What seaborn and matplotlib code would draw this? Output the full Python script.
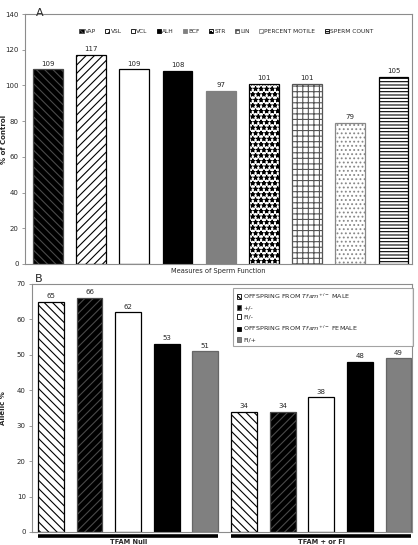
import matplotlib
matplotlib.use('Agg')
import matplotlib.pyplot as plt
import matplotlib.transforms as mtransforms
from matplotlib.patches import Patch
import seaborn as sns
import pandas as pd

sns.set_style('white')
plt.rcParams['font.family'] = ['DejaVu Sans']
plt.rcParams['hatch.linewidth'] = 0.8

##datos panel A
medidas = ['VAP', 'VSL', 'VCL', 'ALH', 'BCF', 'STR', 'LIN', 'PERCENT MOTILE', 'SPERM COUNT']
pct_control = [109, 117, 109, 108, 97, 101, 101, 79, 105]

##datos panel B
grupos_b = ['TFAM Null', 'TFAM + or Fl']
series_b = ['OFFSPRING FROM $\\mathit{Tfam}^{+/-}$ MALE', '+/-', 'Fl/-',
            'OFFSPRING FROM $\\mathit{Tfam}^{+/-}$ FEMALE', 'Fl/+']
alelico_null = [65, 66, 62, 53, 51]
alelico_fl = [34, 34, 38, 48, 49]

##estilos
caras_a = ['black', 'white', 'white', 'black', '#808080', 'white', 'white', 'white', 'white']
tramas_a = ['\\\\\\\\', '////', '', '', '', '***', '+++', '....', '-----']
bordes_a = ['#4a4a4a', 'black', 'black', 'black', '#808080', 'black', '#555555', '#888888', 'black']

caras_b = ['white', 'black', 'white', 'black', '#808080']
tramas_b = ['\\\\\\\\', '////', '', '', '']
bordes_b = ['black', '#4a4a4a', 'black', 'black', '#666666']

gris = '#8c8c8c'
fig = plt.figure(figsize=(4.18, 5.45), dpi=100)

###panel A
ax1 = fig.add_axes([0.060, 0.5156, 0.926, 0.4587])
df_a = pd.DataFrame({'medida': medidas, 'valor': pct_control})
sns.barplot(data=df_a, x='medida', y='valor', hue='medida', order=medidas,
            palette=caras_a, width=0.69, legend=False, ax=ax1, saturation=1)
for p, t, b in zip(ax1.patches, tramas_a, bordes_a):
    p.set_hatch(t)
    p.set_edgecolor(b)
    p.set_linewidth(0.9)
for c in ax1.containers:
    ax1.bar_label(c, fontsize=5, padding=2)
ax1.set_ylim(0, 140)
ax1.set_yticks(range(0, 141, 20))
ax1.set_xlim(-0.53, 8.43)
ax1.set_xticks([])
ax1.set_xlabel('Measures of Sperm Function', fontsize=4.8, labelpad=3)
ax1.set_ylabel('% of Control', fontsize=5, fontweight='bold')
ax1.yaxis.set_label_coords(-0.048, 0.5)
ax1.tick_params(axis='y', labelsize=5, length=2.5, width=0.6, color=gris, left=True, pad=2)
for s in ax1.spines.values():
    s.set_color(gris)
    s.set_linewidth(0.8)

hand_a = [Patch(facecolor=f, edgecolor=b, hatch=t, linewidth=0.6)
          for f, t, b in zip(caras_a, tramas_a, bordes_a)]
ax1.legend(hand_a, medidas, loc='center', bbox_to_anchor=(0.52, 0.93), ncol=9,
           frameon=False, fontsize=4.2, handlelength=0.7, handleheight=0.7,
           handletextpad=0.2, columnspacing=1.6)

fig.text(0.085, 0.985, 'A', fontsize=8, va='top')

###panel B
ax2 = fig.add_axes([0.0766, 0.0239, 0.909, 0.455])
etiquetas = [str(i) for i in range(10)]
valores_b = alelico_null + alelico_fl
df_b = pd.DataFrame({'barra': etiquetas, 'valor': valores_b})
sns.barplot(data=df_b, x='barra', y='valor', hue='barra', order=etiquetas,
            palette=caras_b * 2, width=0.67, legend=False, ax=ax2, saturation=1)
for p, t, b in zip(ax2.patches, tramas_b * 2, bordes_b * 2):
    p.set_hatch(t)
    p.set_edgecolor(b)
    p.set_linewidth(0.9)
for c in ax2.containers:
    ax2.bar_label(c, fontsize=5, padding=2)
ax2.set_ylim(0, 70)
ax2.set_yticks(range(0, 71, 10))
ax2.set_xlim(-0.49, 9.35)
ax2.set_xticks([])
ax2.set_xlabel('')
ax2.set_ylabel('Allelic %', fontsize=5, fontweight='bold')
ax2.yaxis.set_label_coords(-0.068, 0.5)
ax2.tick_params(axis='y', labelsize=5, length=2.5, width=0.6, color=gris, left=True, pad=2)
for s in ax2.spines.values():
    s.set_color(gris)
    s.set_linewidth(0.8)

hand_b = [Patch(facecolor=f, edgecolor=b, hatch=t, linewidth=0.6)
          for f, t, b in zip(caras_b, tramas_b, bordes_b)]
leg = ax2.legend(hand_b, series_b, loc='upper left', bbox_to_anchor=(0.529, 0.984, 0.474, 0.0),
                 mode='expand', frameon=True, fancybox=False, fontsize=4.6,
                 handlelength=0.7, handleheight=0.7, handletextpad=0.3,
                 labelspacing=0.62, borderpad=0.6, borderaxespad=0)
leg.get_frame().set_edgecolor(gris)
leg.get_frame().set_linewidth(0.8)

##lineas de grupo debajo del eje
trans = mtransforms.blended_transform_factory(ax2.transData, ax2.transAxes)
for k, g in enumerate(grupos_b):
    x0 = k * 5 - 0.67 / 2
    x1 = k * 5 + 4 + 0.67 / 2
    ax2.plot([x0, x1], [-0.016, -0.016], color='black', lw=2.6, transform=trans,
             clip_on=False, solid_capstyle='butt')
    ax2.text((x0 + x1) / 2, -0.028, g, transform=trans, ha='center', va='top',
             fontsize=4.8, fontweight='bold')

fig.text(0.083, 0.497, 'B', fontsize=8, va='top')

fig.savefig('out.png', dpi=100)
